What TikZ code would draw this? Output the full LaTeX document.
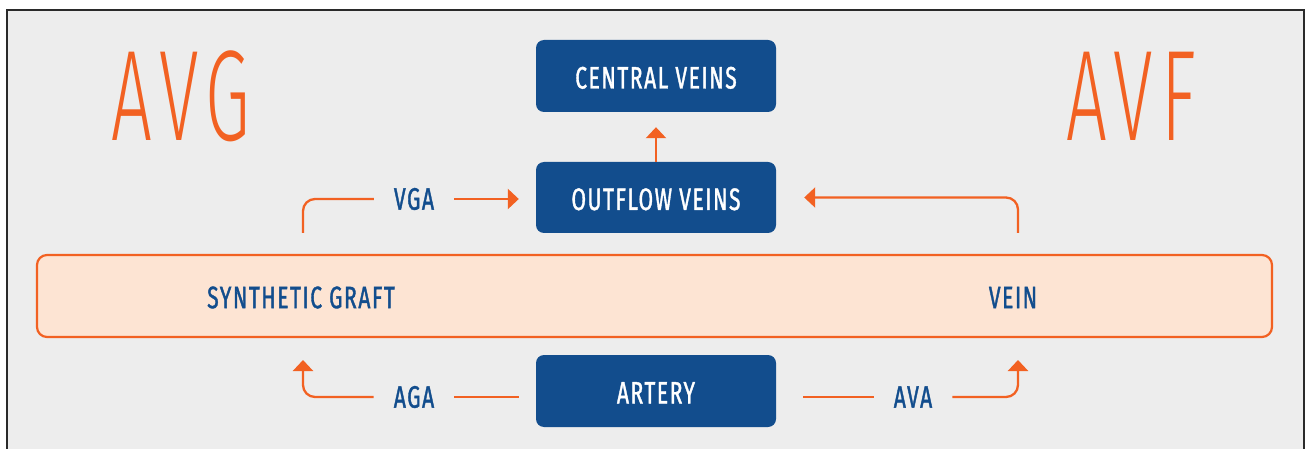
\documentclass[tikz,border=0pt]{standalone}
\usepackage{fontspec}
\usetikzlibrary{arrows.meta,calc}
\newfontfamily\labf[FakeStretch=0.68,LetterSpace=5,FakeBold=1.2]{Fira Sans}
\newfontfamily\bigf[FakeStretch=0.56,LetterSpace=6]{Fira Sans Light}
\definecolor{bgray}{HTML}{EDEDED}
\definecolor{frame}{HTML}{2A2A2A}
\definecolor{orng}{HTML}{F26122}
\definecolor{dblue}{HTML}{124D8D}
\definecolor{peach}{HTML}{FDE4D3}
\tikzset{
  bluebox/.style={rectangle,rounded corners=8pt,fill=dblue,text=white,minimum width=240pt,minimum height=72pt,inner sep=0pt,text height=25pt,text depth=0pt,font=\labf\fontsize{31}{31}\selectfont},
  band/.style={rectangle,rounded corners=10pt,draw=orng,line width=2.2pt,fill=peach,minimum width=1235pt,minimum height=82pt,inner sep=0pt},
  lbl/.style={text=dblue,inner xsep=20pt,inner ysep=0pt,font=\labf\fontsize{31}{31}\selectfont},
  bigt/.style={text=orng,inner sep=0pt,font=\bigf\fontsize{129}{129}\selectfont},
  conn/.style={draw=orng,line width=2.3pt,rounded corners=12pt},
  arr/.style={conn,-{Triangle[length=11pt,width=20pt]}}
}
\begin{document}
\begin{tikzpicture}[x=1pt,y=-1pt]
\useasboundingbox (0,0) rectangle (1307,449);
\fill[white] (0,0) rectangle (1307,449);
\fill[bgray] (7,10) rectangle (1304,449);
\draw[frame,line width=1.6pt] (7,449) -- (7,10) -- (1304,10) -- (1304,449);
\node[bigt] (avg) at (181,96) {AVG};
\node[bigt] (avf) at (1131,96) {AVF};
\node[band] (bandn) at (654.5,296) {};
\node[lbl] (graft) at (301,297.5) {SYNTHETIC GRAFT};
\node[lbl] (vein) at (1013,297.5) {VEIN};
\node[bluebox] (central) at (656,76) {CENTRAL VEINS};
\node[bluebox,minimum height=71pt] (outflow) at (656,197.5) {OUTFLOW VEINS};
\node[bluebox] (artery) at (656,391) {ARTERY};
\node[lbl] (vga) at (414,199) {VGA};
\node[lbl] (aga) at (414,397) {AGA};
\node[lbl] (ava) at (913,397) {AVA};
\coordinate (gs) at (303,233);
\coordinate (vn) at (1018,233);
\coordinate (ga) at (303,360);
\coordinate (va) at (1018,360);
\draw[conn] (gs) |- (vga.west);
\draw[arr,shorten >=17pt] (vga.east) -- (vga.east -| outflow.west);
\draw[arr,shorten >=28pt] (vn) |- (outflow.east);
\draw[arr,shorten >=15pt] (outflow.north) -- (central.south);
\draw[conn,shorten >=17pt] (aga.east) -- (aga.east -| artery.west);
\draw[arr] (aga.west) -| (ga);
\draw[conn,shorten <=27pt] (ava.west -| artery.east) -- (ava.west);
\draw[arr] (ava.east) -| (va);
\end{tikzpicture}
\end{document}
